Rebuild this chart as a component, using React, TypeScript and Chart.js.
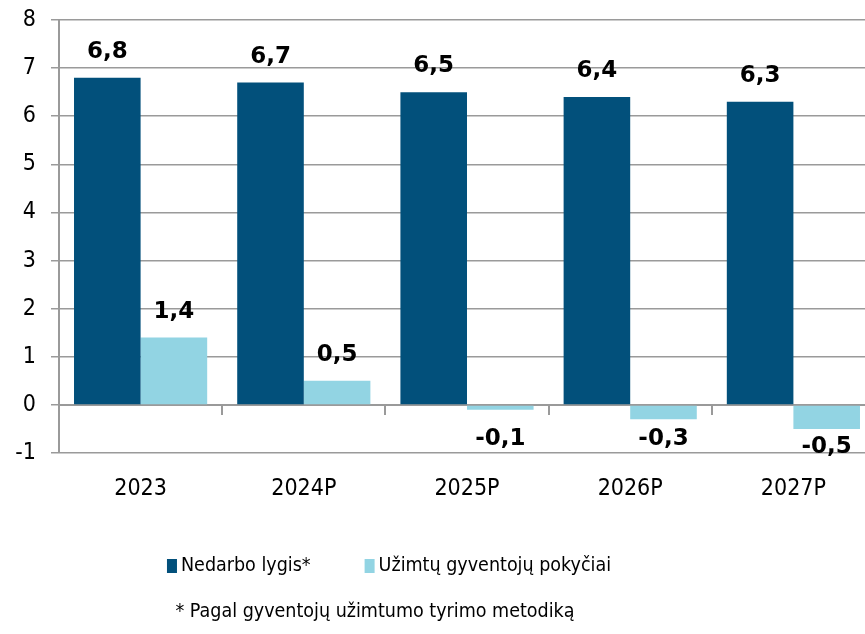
import React, { useEffect, useRef } from "react";
import { Chart, registerables } from "chart.js";

Chart.register(...registerables);

const categories = ["2023", "2024P", "2025P", "2026P", "2027P"];
const unemployment = [6.8, 6.7, 6.5, 6.4, 6.3];
const employmentChange = [1.4, 0.5, -0.1, -0.3, -0.5];
const seriesNames = ["Nedarbo lygis*", "Užimtų gyventojų pokyčiai"];
const footnote = "* Pagal gyventojų užimtumo tyrimo metodiką";
const yMin = -1;
const yMax = 8;

const DARK = "#02507b";
const LIGHT = "#92d4e3";
const GRID = "#9a9a9a";
const FONT = "'DejaVu Sans Condensed', 'DejaVu Sans', sans-serif";
const BOLD_FONT = "'DejaVu Sans', sans-serif";

const labelPlugin = {
  id: "valueLabels",
  afterDatasetsDraw(chart: any) {
    const ctx = chart.ctx;
    const yScale = chart.scales.y;
    ctx.save();
    ctx.font = `bold 23px ${BOLD_FONT}`;
    ctx.fillStyle = "#000";
    ctx.textAlign = "center";
    ctx.textBaseline = "middle";
    chart.data.datasets.forEach((ds: any, di: number) => {
      const meta = chart.getDatasetMeta(di);
      meta.data.forEach((el: any, i: number) => {
        const v = ds.data[i];
        const txt = v.toFixed(1).replace(".", ",");
        let y;
        if (v >= 0) y = el.y - 26;
        else y = Math.max(el.y + 18, yScale.getPixelForValue(-0.7));
        ctx.fillText(txt, el.x, y);
      });
    });
    ctx.restore();
  },
};

const legendPlugin = {
  id: "customLegend",
  afterDraw(chart: any) {
    const ctx = chart.ctx;
    ctx.save();
    ctx.font = `19.5px ${FONT}`;
    ctx.textBaseline = "middle";
    ctx.textAlign = "left";
    const boxW = 10;
    const boxH = 14;
    const gapText = 4;
    const gapItems = 54;
    const items = chart.data.datasets.map((ds: any) => ({
      label: ds.label,
      color: ds.backgroundColor,
      w: boxW + gapText + ctx.measureText(ds.label).width,
    }));
    const total = items.reduce((s: number, it: any) => s + it.w, 0) + gapItems * (items.length - 1);
    let x = 389 - total / 2;
    const cy = 566;
    items.forEach((it: any) => {
      ctx.fillStyle = it.color;
      ctx.fillRect(x, cy - boxH / 2, boxW, boxH);
      ctx.fillStyle = "#000";
      ctx.fillText(it.label, x + boxW + gapText, cy);
      x += it.w + gapItems;
    });
    ctx.textAlign = "center";
    ctx.fillText(footnote, 375, 612);
    ctx.restore();
  },
};

export default function App() {
  const ref = useRef<HTMLCanvasElement>(null);
  useEffect(() => {
    if (!ref.current) return;
    const chart = new Chart(ref.current, {
      type: "bar",
      data: {
        labels: categories,
        datasets: [
          {
            label: seriesNames[0],
            data: unemployment,
            backgroundColor: DARK,
            categoryPercentage: 0.816,
            barPercentage: 1,
          },
          {
            label: seriesNames[1],
            data: employmentChange,
            backgroundColor: LIGHT,
            categoryPercentage: 0.816,
            barPercentage: 1,
          },
        ],
      },
      options: {
        responsive: false,
        animation: false,
        layout: { padding: { top: 0, bottom: 101, left: 0, right: 0 } },
        plugins: {
          legend: { display: false },
          tooltip: { enabled: false },
        },
        scales: {
          x: {
            position: { y: 0 } as any,
            grid: {
              offset: true,
              drawOnChartArea: false,
              drawTicks: true,
              tickLength: 9,
              color: GRID,
              lineWidth: 2,
            },
            border: { display: true, color: GRID, width: 2 },
            ticks: { display: false },
          },
          x2: {
            type: "category",
            position: "bottom",
            labels: categories,
            grid: { display: false },
            border: { display: false },
            ticks: {
              color: "#000",
              font: { family: FONT, size: 23 },
              padding: 14,
              maxRotation: 0,
            },
            afterFit(scale: any) {
              scale.height = 80;
            },
          },
          y: {
            min: yMin,
            max: yMax,
            ticks: {
              stepSize: 1,
              color: "#000",
              font: { family: FONT, size: 23 },
              padding: 15,
            },
            grid: {
              color: GRID,
              lineWidth: 1.5,
              tickLength: 8,
            },
            border: { display: true, color: GRID, width: 2 },
            afterFit(scale: any) {
              scale.width = 59;
              scale.paddingTop = 20;
              scale.paddingBottom = 14;
            },
          },
        },
      },
      plugins: [labelPlugin, legendPlugin],
    });
    return () => chart.destroy();
  }, []);
  return (
    <div
      style={{
        position: "fixed",
        left: 0,
        top: 0,
        width: 865,
        height: 634,
        overflow: "hidden",
        background: "#fff",
      }}
    >
      <canvas ref={ref} width={875} height={634} style={{ width: 875, height: 634 }} />
    </div>
  );
}
